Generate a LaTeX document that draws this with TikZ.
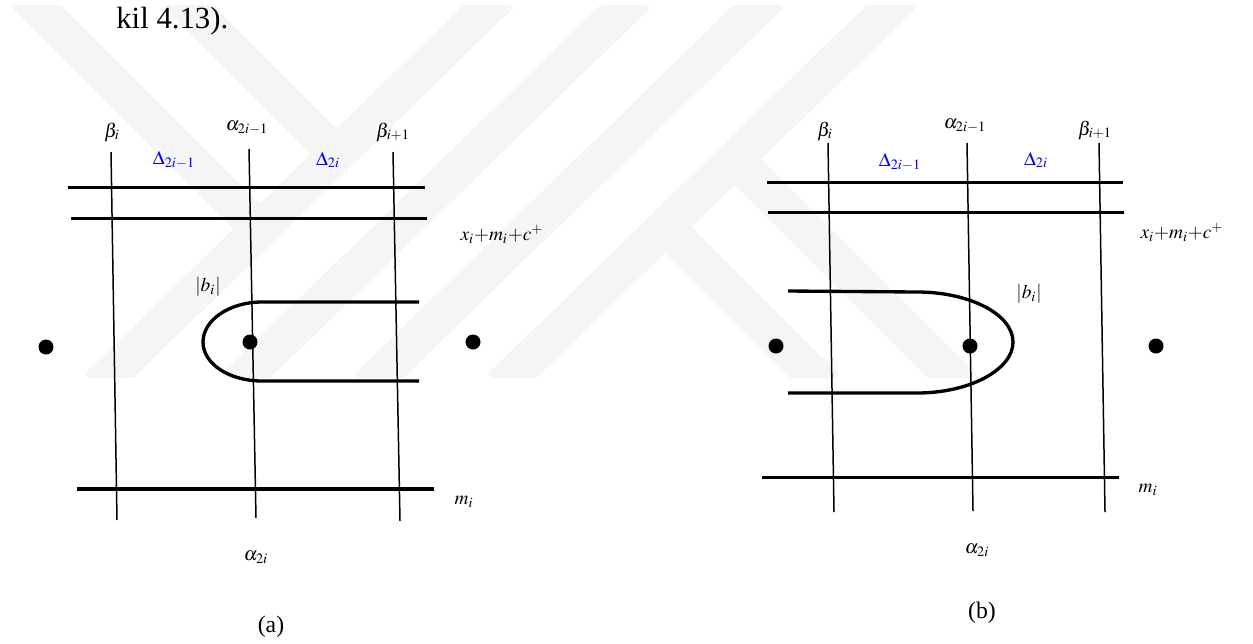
\documentclass[tikz,border=0pt]{standalone}
\usepackage{amsmath}
\usepackage{mathptmx}
\usepackage{fontspec}
\setmainfont{Liberation Serif}
\usepackage{tikz}
\usetikzlibrary{calc}
\tikzset{>=stealth}

\begin{document}
\begin{tikzpicture}[x=0.02cm,y=-0.02cm,
		thinline/.style={line width=0.85pt},
		thickline/.style={line width=1.9pt},
		loopline/.style={line width=1.9pt},
		pt/.style={circle,fill,inner sep=0pt,minimum size=0.3cm},
		lbl/.style={inner sep=0pt,font=\fontsize{11}{13}\selectfont},
		dlbl/.style={lbl,text=blue},
		captxt/.style={inner sep=0pt,font=\fontsize{13.5}{16}\selectfont},
		wm/.style={line width=0.74cm,draw=gray!8}]
	\useasboundingbox (0,0) rectangle (1253,643);
	% watermark
	\begin{scope}
		\clip (0,5) rectangle (1253,377);
		\foreach \c in {490,627,760,893}
			\draw[wm] (\c+10.3,-5) -- (\c-392.3,387);
		\draw[wm] (25,-5) -- (259.5,229.5);
		\draw[wm] (177,-5) -- (336.5,154.5);
		\draw[wm] (665.5,226.5) -- (826,387);
		\draw[wm] (735,159) -- (963,387);
	\end{scope}
	\node[anchor=base west,inner sep=0pt,font=\fontsize{17.5}{20}\selectfont] (txt) at (116,28) {kil 4.13).};

	% (a)
	\coordinate (aB1) at (111,152);
	\coordinate (aB2) at (117,520);
	\coordinate (aA1) at (249,149);
	\coordinate (aA2) at (256,518);
	\coordinate (aC1) at (393,152);
	\coordinate (aC2) at (400,521);
	\draw[thinline] (aB1)--(aB2);
	\draw[thinline] (aA1)--(aA2);
	\draw[thinline] (aC1)--(aC2);
	\coordinate (aH1) at (68,187.7);
	\coordinate (aH2) at (425,187.7);
	\coordinate (aH3) at (71,218.3);
	\coordinate (aH4) at (427,218.3);
	\coordinate (aH5) at (77,489);
	\coordinate (aH6) at (434,489);
	\draw[thickline] (aH1)--(aH2);
	\draw[thickline] (aH3)--(aH4);
	\draw[thickline] (aH5)--(aH6);
	\coordinate (aL1) at (419,302);
	\coordinate (aL2) at (419,381);
	\draw[loopline] (aL1) -- (262,302) .. controls (229.5,302) and (203,320) .. (203,342)
		.. controls (203,364) and (229.5,381) .. (262,381) -- (aL2);
	\node[pt] (aP1) at (46,347) {};
	\node[pt] (aP2) at (250,342) {};
	\node[pt] (aP3) at (473,342) {};
	\node[lbl] (aLb1) at (112,132) {$\beta_i$};
	\node[lbl] (aLa1) at (247,128) {$\alpha_{2i-1}$};
	\node[lbl] (aLb2) at (393,132) {$\beta_{i+1}$};
	\node[dlbl] (aD1) at (174,160) {$\Delta_{2i-1}$};
	\node[dlbl] (aD2) at (328,160) {$\Delta_{2i}$};
	\node[lbl] (aX) at (502,234) {$x_i{+}m_i{+}c^+$};
	\node[lbl] (aBi) at (208,287) {$|b_i|$};
	\node[lbl] (aM) at (464,502) {$m_i$};
	\node[lbl] (aLa2) at (256,557) {$\alpha_{2i}$};
	\node[captxt] (capA) at (271,627) {(a)};

	% (b)
	\coordinate (bB1) at (828,143);
	\coordinate (bB2) at (834,512);
	\coordinate (bA1) at (967,143);
	\coordinate (bA2) at (973,511);
	\coordinate (bC1) at (1099,143);
	\coordinate (bC2) at (1105,512);
	\draw[thinline] (bB1)--(bB2);
	\draw[thinline] (bA1)--(bA2);
	\draw[thinline] (bC1)--(bC2);
	\coordinate (bH1) at (767,182.3);
	\coordinate (bH2) at (1123,182.3);
	\coordinate (bH3) at (768,212.7);
	\coordinate (bH4) at (1124,212.7);
	\coordinate (bH5) at (762,477.3);
	\coordinate (bH6) at (1119,477.3);
	\draw[thickline] (bH1)--(bH2);
	\draw[thickline] (bH3)--(bH4);
	\draw[thickline] (bH5)--(bH6);
	\coordinate (bL1) at (788,291);
	\coordinate (bL2) at (788,393);
	\draw[loopline] (bL1) -- (917,292) .. controls (970,292) and (1013,314.5) .. (1013,342)
		.. controls (1013,369.5) and (970,393) .. (917,393) -- (bL2);
	\node[pt] (bP1) at (776,346) {};
	\node[pt] (bP2) at (970,346) {};
	\node[pt] (bP3) at (1156,346) {};
	\node[lbl] (bLb1) at (825,131) {$\beta_i$};
	\node[lbl] (bLa1) at (965,126) {$\alpha_{2i-1}$};
	\node[lbl] (bLb2) at (1095,130) {$\beta_{i+1}$};
	\node[dlbl] (bD1) at (900,162) {$\Delta_{2i-1}$};
	\node[dlbl] (bD2) at (1036,160) {$\Delta_{2i}$};
	\node[lbl] (bX) at (1182,232) {$x_i{+}m_i{+}c^+$};
	\node[lbl] (bBi) at (1029,294) {$|b_i|$};
	\node[lbl] (bM) at (1148,490) {$m_i$};
	\node[lbl] (bLa2) at (977,550) {$\alpha_{2i}$};
	\node[captxt] (capB) at (982,613) {(b)};
\end{tikzpicture}
\end{document}
